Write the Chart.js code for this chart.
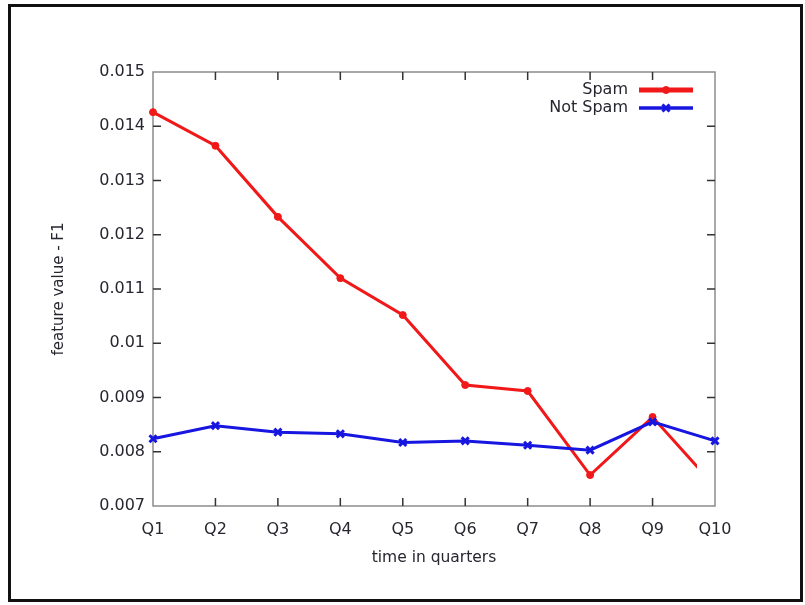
<!DOCTYPE html>
<html>
<head>
<meta charset="utf-8">
<title>feature value - F1</title>
<script src="https://cdn.jsdelivr.net/npm/chart.js@4.4.1/dist/chart.umd.min.js"></script>
<style>
  html, body { margin: 0; padding: 0; background: #fff; }
  #wrap { position: relative; width: 805px; height: 605px; overflow: hidden; }
  #frame {
    position: absolute; left: 8px; top: 4px; width: 789px; height: 592px;
    border: 3px solid #111; pointer-events: none;
  }
  canvas { position: absolute; left: 0; top: 0; }
</style>
</head>
<body>
<div id="wrap">
  <canvas id="chart" width="805" height="605"></canvas>
  <div id="frame"></div>
</div>
<script>
// values
const quarters = ["Q1", "Q2", "Q3", "Q4", "Q5", "Q6", "Q7", "Q8", "Q9", "Q10"];
const spam = [0.01426, 0.01364, 0.01233, 0.0112, 0.01052, 0.00923, 0.00912, 0.00757, 0.00864, 0.00736];
const notSpam = [0.00824, 0.00848, 0.00836, 0.00833, 0.00817, 0.0082, 0.00812, 0.00803, 0.00855, 0.0082];
const yTicks = [0.007, 0.008, 0.009, 0.01, 0.011, 0.012, 0.013, 0.014, 0.015];

const FONT = "'DejaVu Sans', sans-serif";
const TEXT = "#26262f";
const RED = "#f01818";
const BLUE = "#1616e0";

// gnuplot style border with inward ticks, plus key in the top right corner
const gnuplotFrame = {
  id: "gnuplotFrame",
  beforeDatasetsDraw(chart) {
    const { ctx, chartArea: a, scales: { x, y } } = chart;
    ctx.save();
    ctx.strokeStyle = "#8c8c8c";
    ctx.lineWidth = 1.5;
    ctx.strokeRect(a.left, a.top, a.right - a.left, a.bottom - a.top);

    ctx.strokeStyle = "#333";
    ctx.beginPath();
    y.ticks.forEach(t => {
      const py = y.getPixelForValue(t.value);
      if (py <= a.top + 1 || py >= a.bottom - 1) return;
      ctx.moveTo(a.left, py); ctx.lineTo(a.left + 8, py);
      ctx.moveTo(a.right, py); ctx.lineTo(a.right - 8, py);
    });
    x.ticks.forEach((t, i) => {
      const px = x.getPixelForTick(i);
      if (px <= a.left + 1 || px >= a.right - 1) return;
      ctx.moveTo(px, a.bottom); ctx.lineTo(px, a.bottom - 8);
      ctx.moveTo(px, a.top); ctx.lineTo(px, a.top + 8);
    });
    ctx.stroke();
    ctx.restore();
  },
  afterDatasetsDraw(chart) {
    const { ctx, chartArea: a } = chart;
    ctx.save();
    chart.data.datasets.forEach((ds, i) => {
      const cy = a.top + 18 + i * 18;
      ctx.font = "16px " + FONT;
      ctx.fillStyle = TEXT;
      ctx.textAlign = "right";
      ctx.textBaseline = "middle";
      ctx.fillText(ds.label, a.right - 87, cy);

      const x0 = a.right - 76, x1 = a.right - 22, cx = (x0 + x1) / 2;
      ctx.strokeStyle = ds.borderColor;
      ctx.fillStyle = ds.borderColor;
      ctx.lineWidth = ds.keyWidth;
      ctx.beginPath();
      ctx.moveTo(x0, cy); ctx.lineTo(x1, cy);
      ctx.stroke();
      ctx.lineWidth = ds.pointBorderWidth;
      Chart.helpers.drawPoint(ctx, {
        pointStyle: ds.pointStyle, radius: ds.pointRadius,
        borderWidth: ds.pointBorderWidth, rotation: 0
      }, cx, cy);
    });
    ctx.restore();
  }
};

new Chart(document.getElementById("chart"), {
  type: "line",
  data: {
    labels: quarters,
    datasets: [
      {
        label: "Spam",
        data: spam,
        borderColor: RED,
        backgroundColor: RED,
        pointBackgroundColor: RED,
        pointBorderColor: RED,
        borderWidth: 3,
        keyWidth: 5,
        pointStyle: "circle",
        pointRadius: 3.5,
        pointBorderWidth: 1,
        tension: 0,
        order: 1,
        clip: { left: 10, top: 10, right: -18, bottom: 10 }
      },
      {
        label: "Not Spam",
        data: notSpam,
        borderColor: BLUE,
        backgroundColor: BLUE,
        pointBackgroundColor: BLUE,
        pointBorderColor: BLUE,
        borderWidth: 3,
        keyWidth: 3.5,
        pointStyle: "crossRot",
        pointRadius: 5,
        pointBorderWidth: 3,
        tension: 0,
        order: 0,
        clip: 10
      }
    ]
  },
  options: {
    responsive: false,
    animation: false,
    devicePixelRatio: 1,
    layout: { padding: { left: 0, right: 90, top: 72, bottom: 0 } },
    plugins: {
      legend: { display: false },
      tooltip: { enabled: false }
    },
    scales: {
      x: {
        type: "category",
        offset: false,
        grid: { display: false, drawTicks: false },
        border: { display: false },
        ticks: {
          color: TEXT, font: { family: FONT, size: 16 },
          padding: 14, maxRotation: 0, autoSkip: false
        },
        title: {
          display: true, text: "time in quarters", color: TEXT,
          font: { family: FONT, size: 15.5 }, padding: { top: 0, bottom: 38 }
        },
        afterFit(scale) { scale.height = 99; }
      },
      y: {
        min: 0.007,
        max: 0.015,
        afterBuildTicks(scale) { scale.ticks = yTicks.map(v => ({ value: v })); },
        grid: { display: false, drawTicks: false },
        border: { display: false },
        ticks: {
          color: TEXT, font: { family: FONT, size: 16 }, padding: 8,
          callback: v => String(Number(v.toFixed(3)))
        },
        title: {
          display: true, text: "feature value - F1", color: TEXT,
          font: { family: FONT, size: 15 }, padding: { top: 50, bottom: 0 }
        },
        afterFit(scale) { scale.width = 153; }
      }
    }
  },
  plugins: [gnuplotFrame]
});
</script>
</body>
</html>
